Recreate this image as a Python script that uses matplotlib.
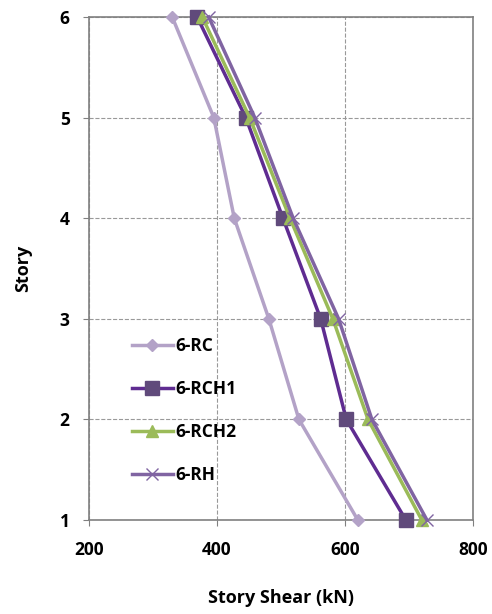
import matplotlib.pyplot as plt

# story shear per story (kN)
stories = [1, 2, 3, 4, 5, 6]
rc   = [620, 528, 481, 427, 395, 330]
rch1 = [695, 602, 562, 503, 445, 369]
rch2 = [720, 636, 581, 514, 451, 377]
rh   = [728, 642, 590, 519, 459, 387]

labels = ['6-RC', '6-RCH1', '6-RCH2', '6-RH']

plt.rcParams['font.family'] = ['Open Sans', 'DejaVu Sans']
plt.rcParams['font.weight'] = 'bold'

fig = plt.figure(figsize=(4.92, 6.14), dpi=100)
ax = fig.add_axes([89/492, 1-520/614, 384/492, 503/614])

ax.plot(rc, stories, color='#b3a2c7', lw=2.5, marker='D', ms=6,
        label=labels[0], clip_on=False, zorder=3)
ax.plot(rch1, stories, color='#5f2c91', lw=2.5, marker='s', ms=10,
        mfc='#604a7b', mec='#604a7b', label=labels[1], clip_on=False, zorder=4)
ax.plot(rch2, stories, color='#9bbb59', lw=2.5, marker='^', ms=9,
        label=labels[2], clip_on=False, zorder=5)
ax.plot(rh, stories, color='#8064a2', lw=2.5, marker='x', ms=9, mew=1,
        label=labels[3], clip_on=False, zorder=6)

ax.set_xlim(200, 800)
ax.set_ylim(1, 6)
ax.set_xticks([200, 400, 600, 800])
ax.set_yticks(stories)
ax.grid(True, ls='--', color='#999999', lw=0.8)
ax.set_axisbelow(True)
for sp in ax.spines.values():
    sp.set_color('#808080')
    sp.set_linewidth(1.2)
ax.tick_params(direction='out', length=4, color='#808080', labelsize=12.5)
ax.tick_params(axis='x', pad=11)
ax.tick_params(axis='y', pad=10)
for t in ax.get_xticklabels() + ax.get_yticklabels():
    t.set_fontweight('bold')

ax.set_xlabel('Story Shear (kN)', fontsize=13, fontweight='bold', labelpad=22)
ax.set_ylabel('Story', fontsize=13, fontweight='bold', labelpad=20)

leg = ax.legend(loc='lower left', bbox_to_anchor=(0.07, 0.04), frameon=False,
                fontsize=12.5, labelspacing=1.45, handlelength=2.4, handletextpad=0.1)
for t in leg.get_texts():
    t.set_fontweight('bold')

fig.savefig('out.png', dpi=100)
